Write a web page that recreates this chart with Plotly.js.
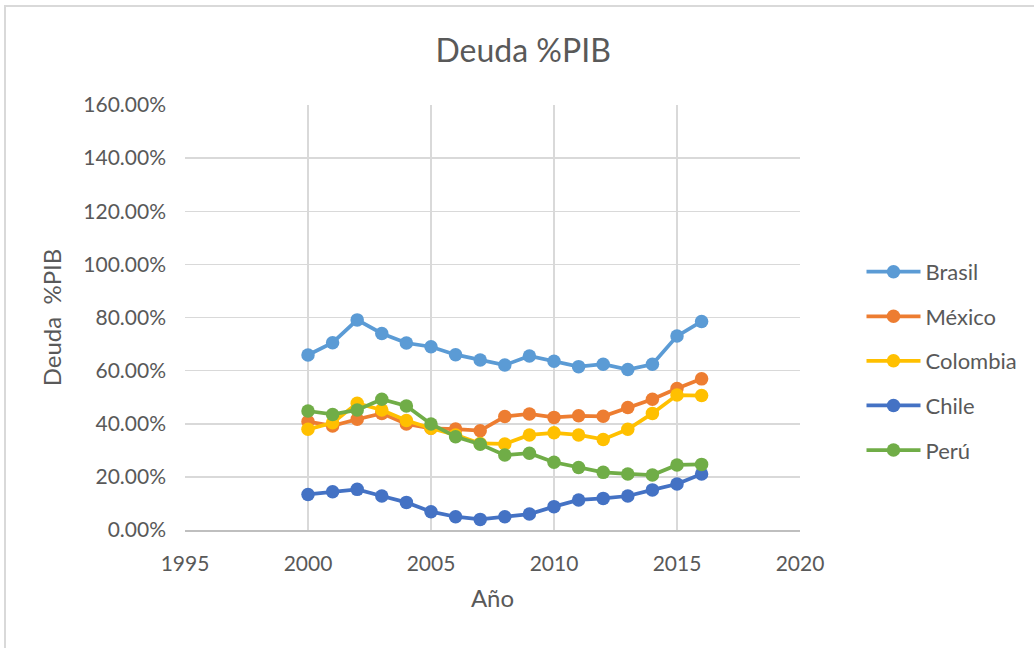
<!DOCTYPE html>
<html>
<head>
<meta charset="utf-8">
<script src="https://cdn.plot.ly/plotly-3.0.1.min.js"></script>
<style>
html,body{margin:0;padding:0;background:#fff;}
#wrap{position:relative;width:1034px;height:648px;overflow:hidden;}
#frame{position:absolute;left:4px;top:5px;width:1100px;height:700px;border-top:2px solid #d9d9d9;border-left:2px solid #d9d9d9;box-sizing:border-box;pointer-events:none;}
#chart{position:absolute;left:0;top:0;width:1034px;height:648px;}
</style>
</head>
<body>
<div id="wrap"><div id="chart"></div><div id="frame"></div></div>
<script>
const years = [2000,2001,2002,2003,2004,2005,2006,2007,2008,2009,2010,2011,2012,2013,2014,2015,2016];
const brasil   = [65.9,70.5,79.1,74.0,70.4,69.0,66.0,64.0,62.1,65.5,63.5,61.5,62.4,60.4,62.4,73.0,78.5];
const mexico   = [40.8,39.2,41.7,43.9,39.9,38.3,38.0,37.4,42.7,43.7,42.4,43.0,42.8,46.1,49.2,53.3,56.9];
const colombia = [37.9,40.4,47.7,45.2,41.2,38.3,35.8,32.6,32.4,35.8,36.6,35.8,34.1,37.9,43.9,50.8,50.6];
const chile    = [13.4,14.4,15.3,12.8,10.4,6.9,5.0,4.0,5.0,6.0,8.8,11.3,11.9,12.8,15.1,17.3,21.1];
const peru     = [44.8,43.5,45.2,49.2,46.7,39.9,35.1,32.3,28.2,28.9,25.5,23.5,21.7,21.1,20.7,24.5,24.7];
const seriesNames = ["Brasil","México","Colombia","Chile","Perú"];
const seriesData = [brasil, mexico, colombia, chile, peru];
const seriesColors = ["#5B9BD5","#ED7D31","#FFC000","#4472C4","#70AD47"];

const font = "Lato, 'Open Sans', sans-serif";
const traces = seriesNames.map((n,i)=>({
  x: years, y: seriesData[i], name: n, type: "scatter", mode: "lines+markers",
  legendgroup: "g"+i,
  line: {color: seriesColors[i], width: 3.75},
  marker: {color: seriesColors[i], size: 13.5}
}));

const layout = {
  width: 1034, height: 648,
  paper_bgcolor: "rgba(0,0,0,0)", plot_bgcolor: "#fff",
  margin: {l:185, r:234, t:105, b:118},
  font: {family: font, color: "#595959", size: 20},
  title: {text: "Deuda %PIB", font: {family: font, size: 32, color: "#595959"}, x: 0.506, xanchor: "center", y: 0.922, yanchor: "middle"},
  xaxis: {
    range: [1995, 2020], dtick: 5, tick0: 1995,
    showgrid: true, gridcolor: "#d9d9d9", gridwidth: 1.5,
    showline: true, linecolor: "#bfbfbf", linewidth: 1.5,
    zeroline: false, ticks: "", tickfont: {size: 21, color: "#595959"},
    ticklabelstandoff: 14,
    title: {text: "Año", font: {size: 24, color: "#595959"}, standoff: 16}
  },
  yaxis: {
    range: [0, 160], dtick: 20, tickformat: ".2f", ticksuffix: "%",
    showgrid: true, gridcolor: "#d9d9d9", gridwidth: 1.5,
    zeroline: false, showline: false, ticks: "",
    tickfont: {size: 21, color: "#595959"},
    ticklabelstandoff: 18,
    title: {text: "Deuda  %PIB", font: {size: 24, color: "#595959"}, standoff: 14}
  },
  showlegend: true,
  legend: {x: 1.1, xanchor: "left", y: 0.398, yanchor: "middle", itemwidth: 54,
    font: {size: 22, color: "#595959"}, tracegroupgap: 13, bgcolor: "rgba(0,0,0,0)"},
};
Plotly.newPlot("chart", traces, layout, {displayModeBar: false, staticPlot: true});
</script>
</body>
</html>
